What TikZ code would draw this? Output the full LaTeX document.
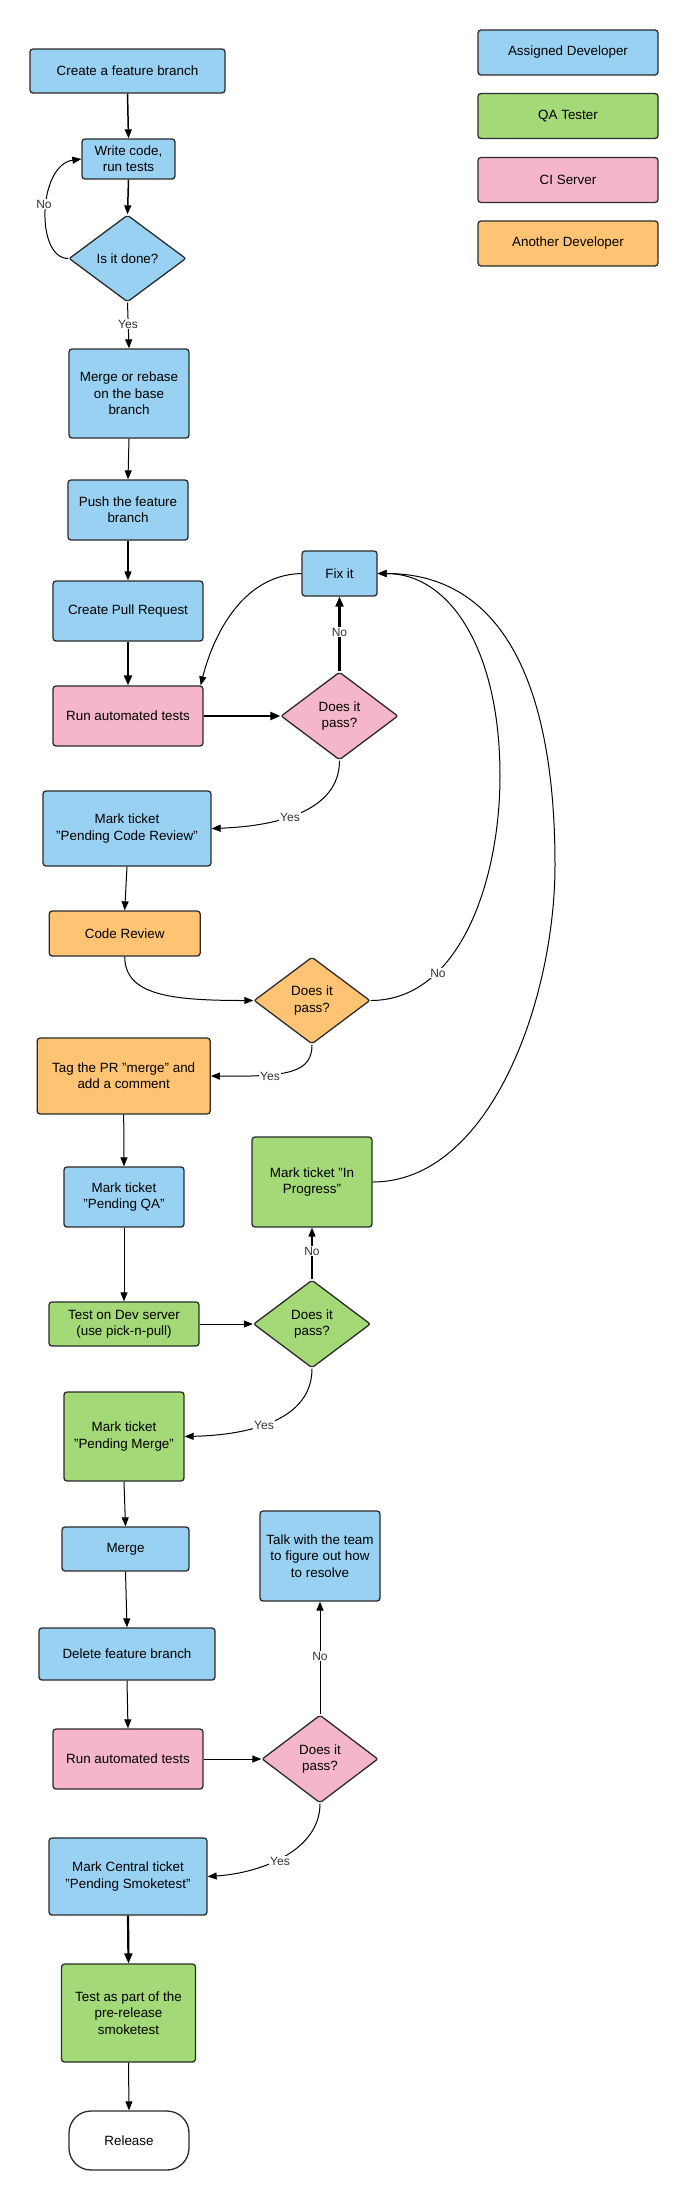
\documentclass[tikz,border=0pt]{standalone}
\usepackage{fontspec}
\setmainfont{Liberation Sans}
\usetikzlibrary{shapes.geometric,arrows.meta}
\definecolor{cblue}{HTML}{99D1F3}
\definecolor{cgreen}{HTML}{A3D977}
\definecolor{cpink}{HTML}{F4B6C8}
\definecolor{corange}{HTML}{FFC374}
\definecolor{cline}{HTML}{2B2B2B}
\begin{document}
\begin{tikzpicture}[x=1pt,y=-1pt,
  every node/.style={font=\fontsize{13.4}{16.3}\selectfont, align=center, inner sep=0pt},
  box/.style={draw=cline, line width=1.3pt, rounded corners=3pt},
  bbox/.style={box, fill=cblue},
  gbox/.style={box, fill=cgreen},
  pbox/.style={box, fill=cpink},
  obox/.style={box, fill=corange},
  dia/.style={diamond, draw=cline, line width=1.3pt, rounded corners=2pt, aspect=1.33, minimum width=117pt, minimum height=88pt},
  arr/.style={draw=black, line width=1pt, -{Triangle[length=9pt,width=7pt]}},
  arrM/.style={arr, line width=1.5pt},
  arrT/.style={draw=black, line width=2.2pt, -{Triangle[length=10pt,width=8pt]}},
  lbl/.style={fill=white, font=\fontsize{12}{14}\selectfont, text=black!80, inner sep=1pt}
]
\useasboundingbox (0,0) rectangle (686,2201);
\fill[white] (0,0) rectangle (686,2201);

% legend
\node[bbox, minimum width=180pt, minimum height=45pt] (lgA) at (568,52.5) {Assigned Developer};
\node[gbox, minimum width=180pt, minimum height=45pt] (lgQ) at (568,116) {QA Tester};
\node[pbox, minimum width=180pt, minimum height=45pt] (lgC) at (568,180) {CI Server};
\node[obox, minimum width=180pt, minimum height=45pt] (lgO) at (568,243.5) {Another Developer};

% nodes
\node[bbox, minimum width=195pt, minimum height=44pt] (create) at (127.5,71) {Create a feature branch};
\node[bbox, minimum width=93pt, minimum height=40pt] (write) at (128.5,159) {Write code,\\run tests};
\node[dia, fill=cblue, minimum height=87pt] (done) at (127.5,258.5) {Is it done?};
\node[bbox, minimum width=120pt, minimum height=89pt] (merge) at (129,393.5) {Merge or rebase\\on the base\\branch};
\node[bbox, minimum width=120pt, minimum height=60pt] (push) at (128,510) {Push the feature\\branch};
\node[bbox, minimum width=150pt, minimum height=60pt] (cpr) at (128,611) {Create Pull Request};
\node[bbox, minimum width=75pt, minimum height=45pt] (fix) at (339.5,573.5) {Fix it};
\node[pbox, minimum width=150pt, minimum height=60pt] (run1) at (128,716) {Run automated tests};
\node[dia, fill=cpink] (d1) at (339.5,716) {Does it\\pass?};
\node[bbox, minimum width=168pt, minimum height=75pt] (mcr) at (127,828.5) {Mark ticket\\"Pending Code Review"};
\node[obox, minimum width=151pt, minimum height=45pt] (cr) at (124.7,933.5) {Code Review};
\node[dia, fill=corange, minimum width=116pt, minimum height=87pt] (d2) at (312,1000.5) {Does it\\pass?};
\node[obox, minimum width=173pt, minimum height=76pt] (tag) at (123.7,1076) {Tag the PR "merge" and\\add a comment};
\node[bbox, minimum width=120pt, minimum height=60pt] (mqa) at (124,1197) {Mark ticket\\"Pending QA"};
\node[gbox, minimum width=120pt, minimum height=90pt] (inprog) at (312,1182) {Mark ticket "In\\Progress"};
\node[gbox, minimum width=150pt, minimum height=44pt] (tdev) at (124,1324) {Test on Dev server\\(use pick-n-pull)};
\node[dia, fill=cgreen] (d3) at (312,1324) {Does it\\pass?};
\node[gbox, minimum width=120pt, minimum height=89pt] (pmerge) at (124,1436.5) {Mark ticket\\"Pending Merge"};
\node[bbox, minimum width=127pt, minimum height=44pt] (mrg) at (125.5,1549) {Merge};
\node[bbox, minimum width=120pt, minimum height=90pt] (talk) at (320,1556) {Talk with the team\\to figure out how\\to resolve};
\node[bbox, minimum width=176pt, minimum height=52pt] (del) at (127,1654) {Delete feature branch};
\node[pbox, minimum width=150pt, minimum height=60pt] (run2) at (128,1759) {Run automated tests};
\node[dia, fill=cpink, minimum width=116pt] (d4) at (320,1759) {Does it\\pass?};
\node[bbox, minimum width=158pt, minimum height=77pt] (central) at (128,1876.5) {Mark Central ticket\\"Pending Smoketest"};
\node[gbox, minimum width=134pt, minimum height=98pt] (smoke) at (128.5,2013) {Test as part of the\\pre-release\\smoketest};
\node[draw=cline, line width=1.3pt, fill=white, rounded corners=22pt, minimum width=120pt, minimum height=59pt] (release) at (129,2140.5) {Release};

% straight connectors
\draw[arrM] (create.south) -- (write.north);
\draw[arrM] (write.south) -- (done.north);
\draw[arr] (done.south) -- (merge.north);
\draw[arr] (merge.south) -- (push.north);
\draw[arrM] (push.south) -- (cpr.north);
\draw[arrT] (cpr.south) -- (run1.north);
\draw[arrT] (run1.east) -- (d1.west);
\draw[arrT] (d1.north) -- (fix.south);
\draw[arr] (mcr.south) -- (cr.north);
\draw[arr] (tag.south) -- (mqa.north);
\draw[arr] (mqa.south) -- (tdev.north);
\draw[arr] (tdev.east) -- (d3.west);
\draw[arrM] (d3.north) -- (inprog.south);
\draw[arr] (pmerge.south) -- (mrg.north);
\draw[arr] (mrg.south) -- (del.north);
\draw[arr] (del.south) -- (run2.north);
\draw[arr] (run2.east) -- (d4.west);
\draw[arr] (d4.north) -- (talk.south);
\draw[arrT] (central.south) -- (smoke.north);
\draw[arr] (smoke.south) -- (release.north);

% curved connectors
\draw[arr] (done.west) .. controls (35,258.5) and (38,165) .. (write.west);
\draw[arr] (fix.west) .. controls (240,575) and (212,640) .. ([xshift=-3pt]run1.north east);
\draw[arr] (d1.south) .. controls (339.5,810) and (280,826) .. (mcr.east);
\draw[arr] (cr.south) .. controls (125,995) and (170,1000.5) .. (d2.west);
\draw[arr] (d2.east) .. controls (460,1000.5) and (500,880) .. (500,776) .. controls (500,650) and (450,573.5) .. (fix.east);
\draw[arr] (inprog.east) .. controls (490,1182) and (555,1000) .. (555,865) .. controls (555,680) and (500,573.5) .. (fix.east);
\draw[arr] (d2.south) .. controls (312,1072) and (290,1077) .. (tag.east);
\draw[arr] (d3.south) .. controls (312,1420) and (250,1435) .. (pmerge.east);
\draw[arr] (d4.south) .. controls (320,1850) and (262,1873) .. (central.east);

% labels
\node[lbl] (lNo1) at (44,204) {No};
\node[lbl] (lYes1) at (128,324) {Yes};
\node[lbl] (lNo2) at (339.5,632) {No};
\node[lbl] (lYes2) at (290,817) {Yes};
\node[lbl] (lNo3) at (438,973) {No};
\node[lbl] (lYes3) at (270,1076) {Yes};
\node[lbl] (lNo4) at (312,1251) {No};
\node[lbl] (lYes4) at (264,1425) {Yes};
\node[lbl] (lNo5) at (320,1656) {No};
\node[lbl] (lYes5) at (280,1861) {Yes};
\end{tikzpicture}
\end{document}
